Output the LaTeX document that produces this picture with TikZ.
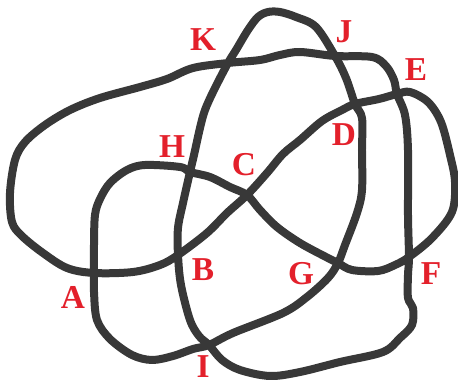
\documentclass[tikz,border=0pt]{standalone}
\usepackage{fontspec}
\setmainfont{Liberation Serif}
\usepackage{tikz}
\usetikzlibrary{positioning, calc}
\definecolor{knotgray}{HTML}{383838}
\definecolor{labelred}{HTML}{E3202B}

\tikzset{
  knot/.style={draw=knotgray, line width=0.16cm, line join=round, line cap=round},
  lbl/.style={text=labelred, font=\fontsize{19}{19}\selectfont\bfseries, inner sep=0pt}
}

\begin{document}
\begin{tikzpicture}[x=0.02cm,y=-0.02cm]
      \useasboundingbox (0,0) rectangle (458,385);

      % crossings
      \coordinate (A) at (94,273);
      \coordinate (B) at (178,255);
      \coordinate (C) at (247,195);
      \coordinate (D) at (355,104);
      \coordinate (E) at (397,94);
      \coordinate (F) at (409,257);
      \coordinate (G) at (338,263);
      \coordinate (H) at (190,172);
      \coordinate (I) at (209,345);
      \coordinate (J) at (335,56);
      \coordinate (K) at (228,63);

      % the knot, one closed strand
      \draw[knot] plot[smooth cycle, tension=0.55] coordinates {
        (K) (193,68) (167,79) (140,87) (100,98) (70,110) (45,125) (25,142)
        (15,160) (10,193) (12,222) (22,236) (43,253) (67,268)
        (A) (133,272) (160,265)
        (B) (207,233) (227,213)
        (C) (267,173) (283,154) (300,140) (322,121) (342,110)
        (D) (379,99)
        (E) (410,92) (428,102) (441,122) (450,155) (455,182) (452,212) (432,238)
        (F) (395,265) (378,271) (352,270)
        (G) (326,257) (300,243) (277,227) (260,210)
        (C) (230,187) (210,177)
        (H) (180,167) (145,165) (127,170) (110,183) (100,199) (95,215) (94,245)
        (A) (94,292) (97,320) (110,339) (132,355) (152,360) (173,356) (193,349)
        (I) (233,333) (283,313) (307,297) (328,278)
        (G) (345,245) (357,213) (362,190) (362,150) (362,118)
        (D) (346,78)
        (J) (316,27) (296,17) (280,12) (268,12) (258,17) (248,30) (236,50)
        (K) (214,90) (205,110) (200,128) (194,155)
        (H) (183,203) (178,228)
        (B) (181,285) (190,320) (199,336)
        (I) (222,360) (240,370) (270,376) (300,372) (340,362) (383,352) (400,338)
        (412,325) (413,308) (408,298) (408,275)
        (F) (408,215) (408,150) (405,115)
        (E) (394,80) (386,66) (372,57)
        (J) (300,52) (280,55) (260,60)
      };

      % labels
      \node[lbl] (lA) at (73,297) {A};
      \node[lbl] (lB) at (203,270) {B};
      \node[lbl] (lC) at (244,165) {C};
      \node[lbl] (lD) at (344,135) {D};
      \node[lbl] (lE) at (416,70) {E};
      \node[lbl] (lF) at (431,274) {F};
      \node[lbl] (lG) at (301,274) {G};
      \node[lbl] (lH) at (172,147) {H};
      \node[lbl] (lI) at (203,367) {I};
      \node[lbl] (lJ) at (344,32) {J};
      \node[lbl] (lK) at (203,40) {K};
    \end{tikzpicture}
\end{document}
